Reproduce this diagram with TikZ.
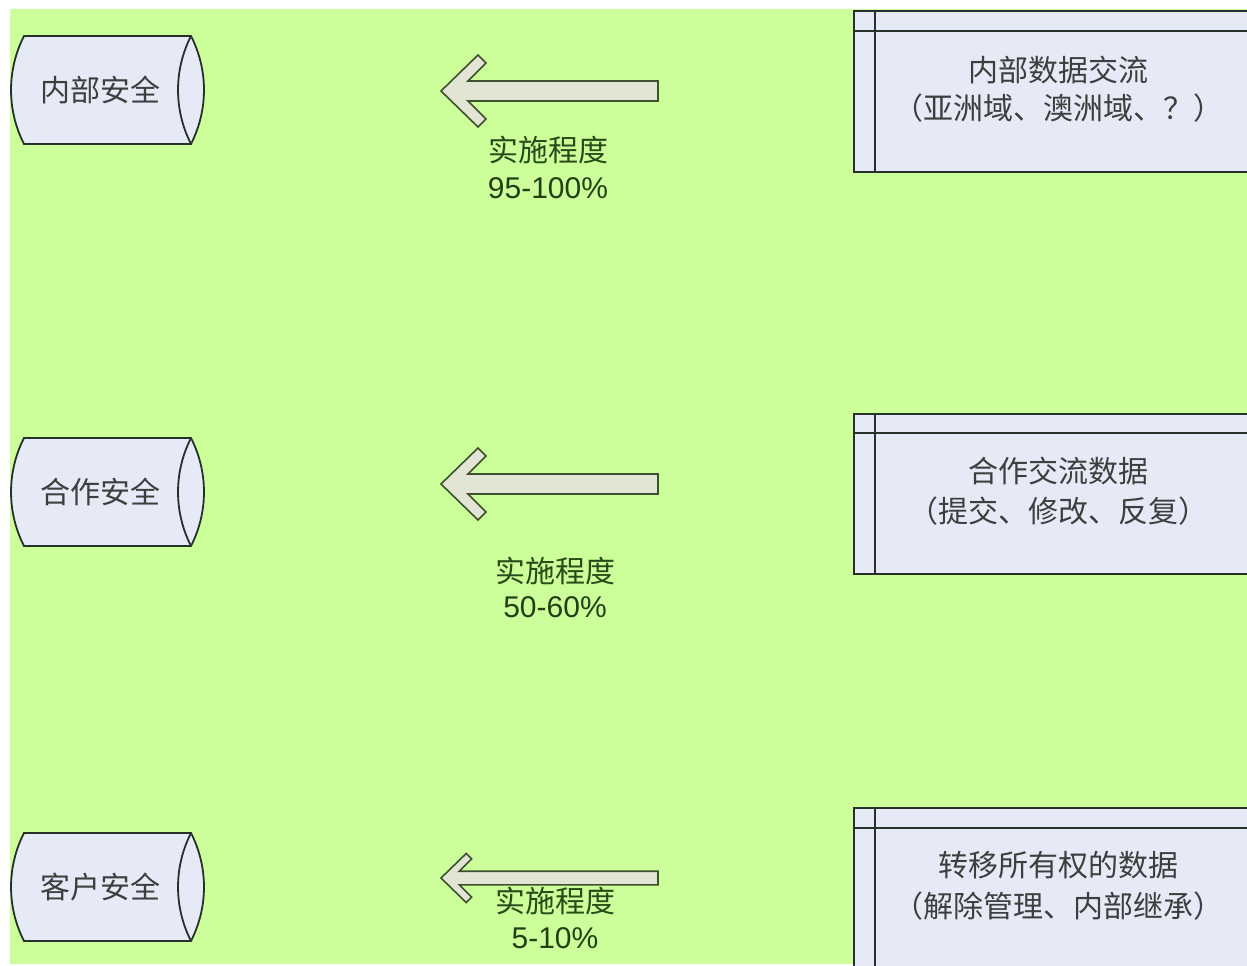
\documentclass[tikz,border=0pt]{standalone}
\usepackage{fontspec}
\newfontfamily\cjk{Noto Sans CJK SC}
\newfontfamily\latf{Liberation Sans}
\definecolor{bg}{RGB}{204,255,153}
\definecolor{boxfill}{RGB}{230,234,246}
\definecolor{linec}{RGB}{40,48,44}
\definecolor{arrfill}{RGB}{226,229,212}
\definecolor{arrline}{RGB}{62,80,48}
\definecolor{txtgray}{RGB}{62,62,62}
\definecolor{lblgreen}{RGB}{42,74,26}
\newcommand\chevarrow[3]{% #1 name, #2 cy, #3 scale
  \coordinate (#1tip) at (441,#2);
  \coordinate (#1end) at (658,#2);
  \draw[blockarrow] (#1tip) -- ({441+37*#3},{#2-36*#3}) -- ({441+45*#3},{#2-28*#3})
    -- ({441+27*#3},{#2-10*#3}) -- (658,{#2-10*#3}) -- (658,{#2+10*#3})
    -- ({441+27*#3},{#2+10*#3}) -- ({441+45*#3},{#2+28*#3})
    -- ({441+37*#3},{#2+36*#3}) -- cycle;}
\newcommand\drumshape[3]{% #1 name, #2 top, #3 bottom
  \draw[drum] (24,#2) -- (191,#2) .. controls (208.3,{#2+34}) and (208.3,{#3-34}) .. (191,#3)
    -- (24,#3) .. controls (6.7,{#3-34}) and (6.7,{#2+34}) .. (24,#2) -- cycle;
  \draw[drum] (191,#2) .. controls (173.7,{#2+34}) and (173.7,{#3-34}) .. (191,#3);}
\begin{document}
\begin{tikzpicture}[x=1pt,y=-1pt,
  drum/.style={fill=boxfill,draw=linec,line width=1.8pt,line join=miter},
  drumtext/.style={font=\cjk\fontsize{30}{36}\selectfont,text=txtgray,inner sep=0pt},
  panel/.style={fill=boxfill,draw=linec,line width=1.8pt,rectangle,inner sep=0pt,anchor=north west},
  panelline/.style={draw=linec,line width=1.8pt},
  paneltext/.style={font=\cjk\fontsize{30}{36}\selectfont,text=txtgray,inner sep=0pt},
  blockarrow/.style={fill=arrfill,draw=arrline,line width=1.6pt,line join=miter},
  lblcjk/.style={font=\cjk\fontsize{30}{36}\selectfont,text=lblgreen,inner sep=0pt},
  lblnum/.style={font=\latf\fontsize{30}{36}\selectfont,text=lblgreen!85!black,inner sep=0pt}]
\clip (0,0) rectangle (1247,966);
\fill[white] (0,0) rectangle (1247,966);
\fill[bg] (10,9) rectangle (1247,964);

% drums
\drumshape{d1}{36}{144}
\node[drumtext] (c1) at (100,90) {内部安全};
\drumshape{d2}{438}{546}
\node[drumtext] (c2) at (100,492) {合作安全};
\drumshape{d3}{833}{941}
\node[drumtext] (c3) at (100,887) {客户安全};

% arrows
\chevarrow{a1}{91}{1}
\chevarrow{a2}{484}{1}
\chevarrow{a3}{878}{0.68}

% labels
\node[lblcjk] (l1a) at (548,150) {实施程度};
\node[lblnum] (l1b) at (548,188) {95-100\%};
\node[lblcjk] (l2a) at (555,571) {实施程度};
\node[lblnum] (l2b) at (555,607) {50-60\%};
\node[lblcjk] (l3a) at (555,901) {实施程度};
\node[lblnum] (l3b) at (555,938) {5-10\%};

% panels
\node[panel,minimum width=420pt,minimum height=161pt] (p1) at (853,10) {};
\draw[panelline] ([xshift=22pt]p1.north west) -- ([xshift=22pt]p1.south west);
\draw[panelline] ([yshift=-21pt]p1.north west) -- ([yshift=-21pt]p1.north east);
\node[paneltext] (t1a) at (1058,70) {内部数据交流};
\node[paneltext] (t1b) at (1058,108) {（亚洲域、澳洲域、？）};

\node[panel,minimum width=420pt,minimum height=160pt] (p2) at (853,413) {};
\draw[panelline] ([xshift=22pt]p2.north west) -- ([xshift=22pt]p2.south west);
\draw[panelline] ([yshift=-20pt]p2.north west) -- ([yshift=-20pt]p2.north east);
\node[paneltext] (t2a) at (1058,471) {合作交流数据};
\node[paneltext] (t2b) at (1058,511) {（提交、修改、反复）};

\node[panel,minimum width=420pt,minimum height=180pt] (p3) at (853,807) {};
\draw[panelline] ([xshift=22pt]p3.north west) -- ([xshift=22pt]p3.south west);
\draw[panelline] ([yshift=-21pt]p3.north west) -- ([yshift=-21pt]p3.north east);
\node[paneltext] (t3a) at (1058,865) {转移所有权的数据};
\node[paneltext] (t3b) at (1058,906) {（解除管理、内部继承）};
\end{tikzpicture}
\end{document}
